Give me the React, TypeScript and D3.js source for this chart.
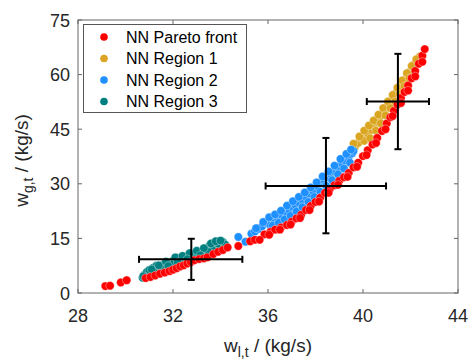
import * as d3 from "d3";
import React, { useRef, useEffect } from "react";

// NN Pareto front (red)
const paretoX = [29.15, 29.35, 29.8, 30.05, 30.85, 31.05, 31.25, 31.45, 31.65, 31.85, 32.0, 32.15, 32.3, 32.45, 32.6, 32.75, 32.9, 33.1, 33.3, 33.45, 33.7, 33.9, 34.1, 34.3, 34.75, 35.25, 35.45, 35.85, 36.1, 36.3, 36.55, 36.8, 37.0, 37.2, 37.4, 37.6, 37.8, 38.0, 38.2, 38.4, 38.6, 38.8, 39.0, 39.2, 39.4, 39.6, 39.8, 40.0, 40.2, 40.4, 40.6, 40.8, 41.0, 41.15, 41.3, 41.45, 41.6, 41.75, 41.9, 42.05, 42.2, 42.35, 42.5, 42.6,
  35.65, 36.05, 36.5, 36.95, 37.35, 37.75, 38.15, 38.55, 38.95, 39.35, 39.75, 40.15, 40.55, 40.95, 41.25, 41.6, 41.9, 42.2, 42.5];
const paretoY = [1.9, 2.0, 2.9, 3.5, 4.1, 4.4, 4.8, 5.3, 5.6, 6.0, 6.4, 6.8, 7.3, 7.6, 8.1, 8.5, 9.0, 9.3, 9.5, 9.8, 10.7, 11.3, 11.8, 12.5, 12.9, 14.2, 14.6, 16.1, 16.8, 17.4, 18.0, 18.7, 19.6, 20.5, 21.5, 22.8, 23.9, 25.0, 26.2, 27.5, 28.5, 29.6, 30.8, 31.8, 33.0, 34.5, 35.8, 37.6, 39.2, 40.8, 42.6, 44.5, 46.6, 48.3, 50.0, 51.8, 53.6, 55.2, 57.0, 59.0, 61.0, 63.0, 65.2, 67.0,
  14.6, 16.0, 17.4, 18.8, 20.6, 22.8, 25.1, 27.5, 29.7, 31.9, 34.7, 37.9, 41.2, 45.0, 48.6, 52.2, 55.6, 59.5, 63.5];

// NN Region 1 (gold)
const region1X = [39.65, 39.8, 39.95, 40.05, 40.2, 40.35, 40.45, 40.6, 40.7, 40.85, 40.95, 41.05, 41.15, 41.3, 41.4, 41.55, 41.65, 41.8, 41.9, 42.0, 42.1, 42.2, 42.3, 42.4,
  39.6, 39.85, 40.05, 40.25, 40.45, 40.65, 40.85, 41.05, 41.25, 41.45, 41.65, 41.85, 42.05, 42.25,
  40.3, 40.55, 40.75, 40.95, 41.15, 41.35, 41.55, 41.75, 41.95];
const region1Y = [40.0, 41.2, 42.5, 41.8, 43.8, 44.8, 46.0, 47.0, 48.4, 49.5, 50.6, 51.4, 52.4, 53.6, 55.0, 56.2, 57.5, 58.8, 60.0, 61.0, 62.0, 63.2, 64.2, 65.0,
  41.0, 43.0, 44.6, 46.0, 47.4, 49.0, 50.8, 52.6, 54.4, 56.4, 58.4, 60.4, 62.4, 64.2,
  42.5, 44.6, 46.6, 48.8, 50.8, 52.6, 54.6, 56.8, 59.0];

// NN Region 2 (blue)
const region2X = [34.75, 35.05, 35.3, 35.45, 35.6, 35.75, 35.95, 36.1, 36.25, 36.4, 36.6, 36.75, 36.9, 37.0, 37.15, 37.3, 37.45, 37.6, 37.75, 37.9, 38.05, 38.2, 38.35, 38.5, 38.65, 38.8, 38.95, 39.1, 39.25, 39.4, 39.55, 39.6,
  35.5, 35.8, 36.05, 36.3, 36.55, 36.8, 37.05, 37.3, 37.55, 37.8, 38.05, 38.3, 38.55, 38.8, 39.05, 39.3, 39.5,
  36.2, 36.45, 36.7, 36.95, 37.2, 37.45, 37.7, 37.95, 38.2, 38.45, 38.7, 38.95, 39.2, 39.45];
const region2Y = [15.4, 14.1, 16.3, 16.9, 17.6, 18.3, 19.2, 18.6, 20.3, 20.8, 21.2, 22.0, 22.8, 23.8, 24.2, 24.9, 25.6, 26.3, 27.3, 28.0, 29.4, 30.2, 31.0, 31.8, 32.6, 33.4, 34.4, 35.6, 36.4, 37.4, 38.4, 39.0,
  17.8, 19.5, 20.8, 21.6, 22.6, 24.0, 25.2, 26.4, 27.6, 29.0, 30.4, 32.0, 33.4, 35.0, 36.8, 38.2, 39.4,
  18.5, 19.3, 20.2, 21.2, 22.4, 23.6, 25.0, 26.4, 27.8, 29.4, 31.0, 32.6, 34.2, 35.8];

// NN Region 3 (teal)
const region3X = [30.72, 30.8, 30.9, 31.0, 31.15, 31.3, 31.45, 31.6, 31.75, 31.9, 32.05, 32.2, 32.35, 32.5, 32.65, 32.8, 32.95, 33.1, 33.25, 33.4, 33.55, 33.7, 33.85, 33.95, 34.1, 34.2, 31.2, 31.5, 32.0, 32.5, 33.0, 33.5, 32.3,
  30.75, 31.1, 31.4, 31.7, 32.1, 32.4, 32.7, 33.0, 33.3, 33.6, 33.8, 34.0, 31.8, 32.2, 32.6, 33.15];
const region3Y = [4.2, 5.0, 5.8, 6.3, 6.9, 7.5, 6.9, 7.8, 8.2, 8.4, 9.2, 9.6, 9.7, 10.0, 10.3, 10.5, 10.9, 11.2, 11.5, 12.1, 13.1, 12.8, 13.6, 13.3, 14.0, 13.3, 5.9, 7.2, 8.0, 9.2, 10.2, 11.3, 8.7,
  4.6, 6.5, 7.6, 8.6, 9.8, 10.2, 10.9, 11.6, 12.3, 13.6, 14.2, 14.4, 7.4, 8.4, 9.3, 10.4];

// error bars: center, x range, y range
const errCx = [32.77, 38.44, 41.47];
const errCy = [9.25, 29.4, 52.6];
const errX0 = [30.57, 35.9, 40.16];
const errX1 = [34.92, 40.97, 42.78];
const errY0 = [3.6, 16.4, 39.5];
const errY1 = [14.9, 42.6, 65.7];

const xTicks = [28, 32, 36, 40, 44];
const yTicks = [0, 15, 30, 45, 60, 75];

const legendNames = ["NN Pareto front", "NN Region 1", "NN Region 2", "NN Region 3"];
const colors = ["#ff0000", "#daa520", "#1e90ff", "#008080"];

const W = 472;
const H = 363;
const left = 78, right = 458, top = 20, bottom = 293;
const font = "'Liberation Sans', Arial, sans-serif";

export default function App() {
  const ref = useRef<SVGSVGElement>(null);

  useEffect(() => {
    const svg = d3.select(ref.current);
    svg.selectAll("*").remove();

    const x = d3.scaleLinear().domain([28, 44]).range([left, right]);
    const y = d3.scaleLinear().domain([0, 75]).range([bottom, top]);

    svg.append("rect").attr("width", W).attr("height", H).attr("fill", "#fff");

    // points: regions first, pareto front on top
    const series = [
      { xs: region1X, ys: region1Y, c: colors[1] },
      { xs: region2X, ys: region2Y, c: colors[2] },
      { xs: region3X, ys: region3Y, c: colors[3] },
      { xs: paretoX, ys: paretoY, c: colors[0] },
    ];
    series.forEach((s) => {
      svg
        .append("g")
        .selectAll("circle")
        .data(s.xs.map((v, i) => [v, s.ys[i]]))
        .join("circle")
        .attr("cx", (d) => x(d[0]))
        .attr("cy", (d) => y(d[1]))
        .attr("r", 4.2)
        .attr("fill", s.c)
        .attr("stroke", "#ffffff")
        .attr("stroke-opacity", 0.45)
        .attr("stroke-width", 0.8);
    });

    // error bars
    const eb = svg.append("g").attr("stroke", "#000").attr("stroke-width", 2);
    errCx.forEach((cx, i) => {
      const px = x(cx), py = y(errCy[i]);
      eb.append("line").attr("x1", x(errX0[i])).attr("x2", x(errX1[i])).attr("y1", py).attr("y2", py);
      eb.append("line").attr("x1", x(errX0[i])).attr("x2", x(errX0[i])).attr("y1", py - 3.5).attr("y2", py + 3.5);
      eb.append("line").attr("x1", x(errX1[i])).attr("x2", x(errX1[i])).attr("y1", py - 3.5).attr("y2", py + 3.5);
      eb.append("line").attr("x1", px).attr("x2", px).attr("y1", y(errY0[i])).attr("y2", y(errY1[i]));
      eb.append("line").attr("x1", px - 3.5).attr("x2", px + 3.5).attr("y1", y(errY0[i])).attr("y2", y(errY0[i]));
      eb.append("line").attr("x1", px - 3.5).attr("x2", px + 3.5).attr("y1", y(errY1[i])).attr("y2", y(errY1[i]));
    });

    // axes box + ticks
    const axisColor = "#666";
    const ax = svg.append("g").attr("stroke", axisColor).attr("stroke-width", 1).attr("fill", "none");
    ax.append("rect").attr("x", left).attr("y", top).attr("width", right - left).attr("height", bottom - top);
    xTicks.forEach((t) => {
      ax.append("line").attr("x1", x(t)).attr("x2", x(t)).attr("y1", bottom).attr("y2", bottom - 4);
      ax.append("line").attr("x1", x(t)).attr("x2", x(t)).attr("y1", top).attr("y2", top + 4);
    });
    yTicks.forEach((t) => {
      ax.append("line").attr("x1", left).attr("x2", left + 4).attr("y1", y(t)).attr("y2", y(t));
      ax.append("line").attr("x1", right).attr("x2", right - 4).attr("y1", y(t)).attr("y2", y(t));
    });

    svg
      .append("g")
      .selectAll("text")
      .data(xTicks)
      .join("text")
      .attr("x", (d) => x(d))
      .attr("y", bottom + 29)
      .attr("text-anchor", "middle")
      .attr("font-family", font)
      .attr("font-size", 18)
      .attr("fill", "#262626")
      .text((d) => d);

    svg
      .append("g")
      .selectAll("text")
      .data(yTicks)
      .join("text")
      .attr("x", left - 8)
      .attr("y", (d) => y(d) + 6.5)
      .attr("text-anchor", "end")
      .attr("font-family", font)
      .attr("font-size", 18)
      .attr("fill", "#262626")
      .text((d) => d);

    // axis labels
    const xl = svg
      .append("text")
      .attr("x", (left + right) / 2)
      .attr("y", 352)
      .attr("text-anchor", "middle")
      .attr("font-family", font)
      .attr("font-size", 19)
      .attr("fill", "#262626");
    xl.append("tspan").text("w");
    xl.append("tspan").attr("font-size", 14).attr("dy", 5).text("l,t");
    xl.append("tspan").attr("dy", -5).text(" / (kg/s)");

    const yl = svg
      .append("text")
      .attr("transform", `translate(28,${(top + bottom) / 2 + 4}) rotate(-90)`)
      .attr("text-anchor", "middle")
      .attr("font-family", font)
      .attr("font-size", 19)
      .attr("fill", "#262626");
    yl.append("tspan").text("w");
    yl.append("tspan").attr("font-size", 14).attr("dy", 5).text("g,t");
    yl.append("tspan").attr("dy", -5).text(" / (kg/s)");

    // legend
    const lg = svg.append("g");
    lg.append("rect")
      .attr("x", 83.5)
      .attr("y", 24.5)
      .attr("width", 163)
      .attr("height", 88)
      .attr("fill", "#fff")
      .attr("stroke", "#555")
      .attr("stroke-width", 1);
    legendNames.forEach((n, i) => {
      const ly = 37 + i * 21.5;
      lg.append("circle").attr("cx", 104).attr("cy", ly).attr("r", 3.8).attr("fill", colors[i]);
      lg.append("text")
        .attr("x", 126)
        .attr("y", ly + 5.5)
        .attr("font-family", font)
        .attr("font-size", 16)
        .attr("fill", "#000")
        .text(n);
    });
  }, []);

  return <svg ref={ref} width={W} height={H} style={{ position: "absolute", left: 0, top: 0 }}></svg>;
}
